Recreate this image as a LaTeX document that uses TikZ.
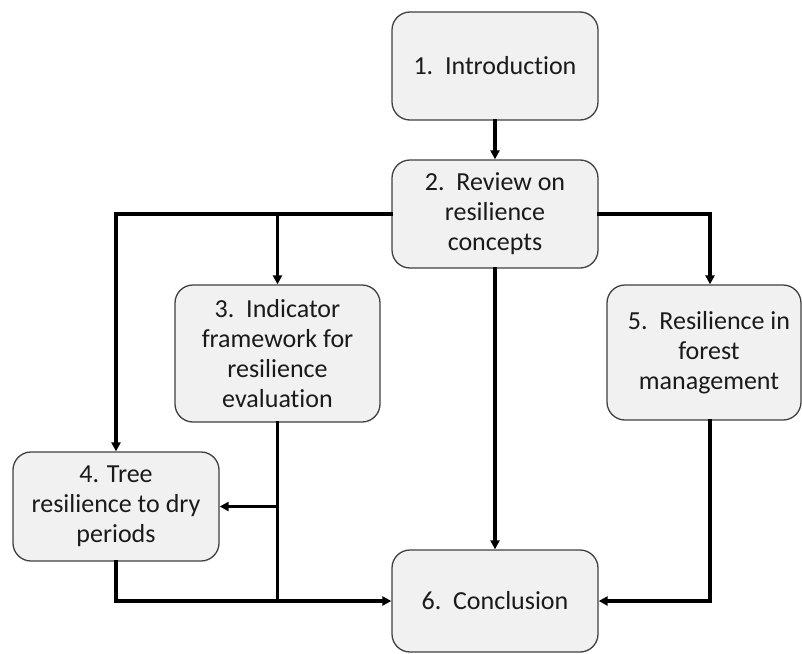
\documentclass[tikz,border=0pt]{standalone}
\usepackage{fontspec}
\setmainfont{Carlito}[Ligatures={NoCommon}]
\usetikzlibrary{arrows.meta}
\definecolor{boxfill}{HTML}{F1F1F1}
\definecolor{boxline}{HTML}{404040}
\definecolor{txt}{HTML}{1A1A1A}
\tikzset{
  stage/.style={draw=boxline, line width=1.3pt, fill=boxfill, rounded corners=18pt,
    align=center, text=txt, inner sep=2pt,
    font=\fontsize{26}{30}\selectfont},
  link/.style={line width=3.2pt, line cap=rect},
  arr/.style={link, -{Triangle[length=9pt,width=9pt]}},
}
\begin{document}
\begin{tikzpicture}[x=1pt,y=-1pt]
  \useasboundingbox (0,0) rectangle (802,653);
  % stages
  \node[stage, minimum width=206pt, minimum height=108pt] (b1) at (495,66) {1.\ \ Introduction};
  \node[stage, minimum width=206pt, minimum height=108pt] (b2) at (495,214) {2.\ \ Review on\\resilience\\concepts};
  \node[stage, minimum width=205pt, minimum height=137pt] (b3) at (277.5,353.5) {3.\ \ Indicator\\framework for\\resilience\\evaluation};
  \node[stage, minimum width=206pt, minimum height=109pt] (b4) at (116,506.5) {4. Tree\\resilience to dry\\periods};
  \node[stage, minimum width=194pt, minimum height=135pt] (b5) at (704,352.5) {\hspace*{10pt}5.\ \ Resilience in\\\hspace*{10pt}forest\\\hspace*{10pt}management};
  \node[stage, minimum width=206pt, minimum height=102pt] (b6) at (495,601) {6.\ \ Conclusion};
  % connectors
  \draw[arr] (b1.south) -- (b2.north);
  \draw[arr] (b2.west) -| (b4.north);
  \draw[arr] (b2.west -| b3.north) -- (b3.north);
  \draw[arr] (b2.east) -| ([xshift=6pt]b5.north);
  \draw[arr] (b2.south) -- (b6.north);
  \draw[link] (b3.south) -- (b3.south |- b6.west);
  \draw[arr] (b3.south |- b4.east) -- (b4.east);
  \draw[arr] (b4.south) |- (b6.west);
  \draw[arr] ([xshift=6pt]b5.south) |- (b6.east);
\end{tikzpicture}
\end{document}
